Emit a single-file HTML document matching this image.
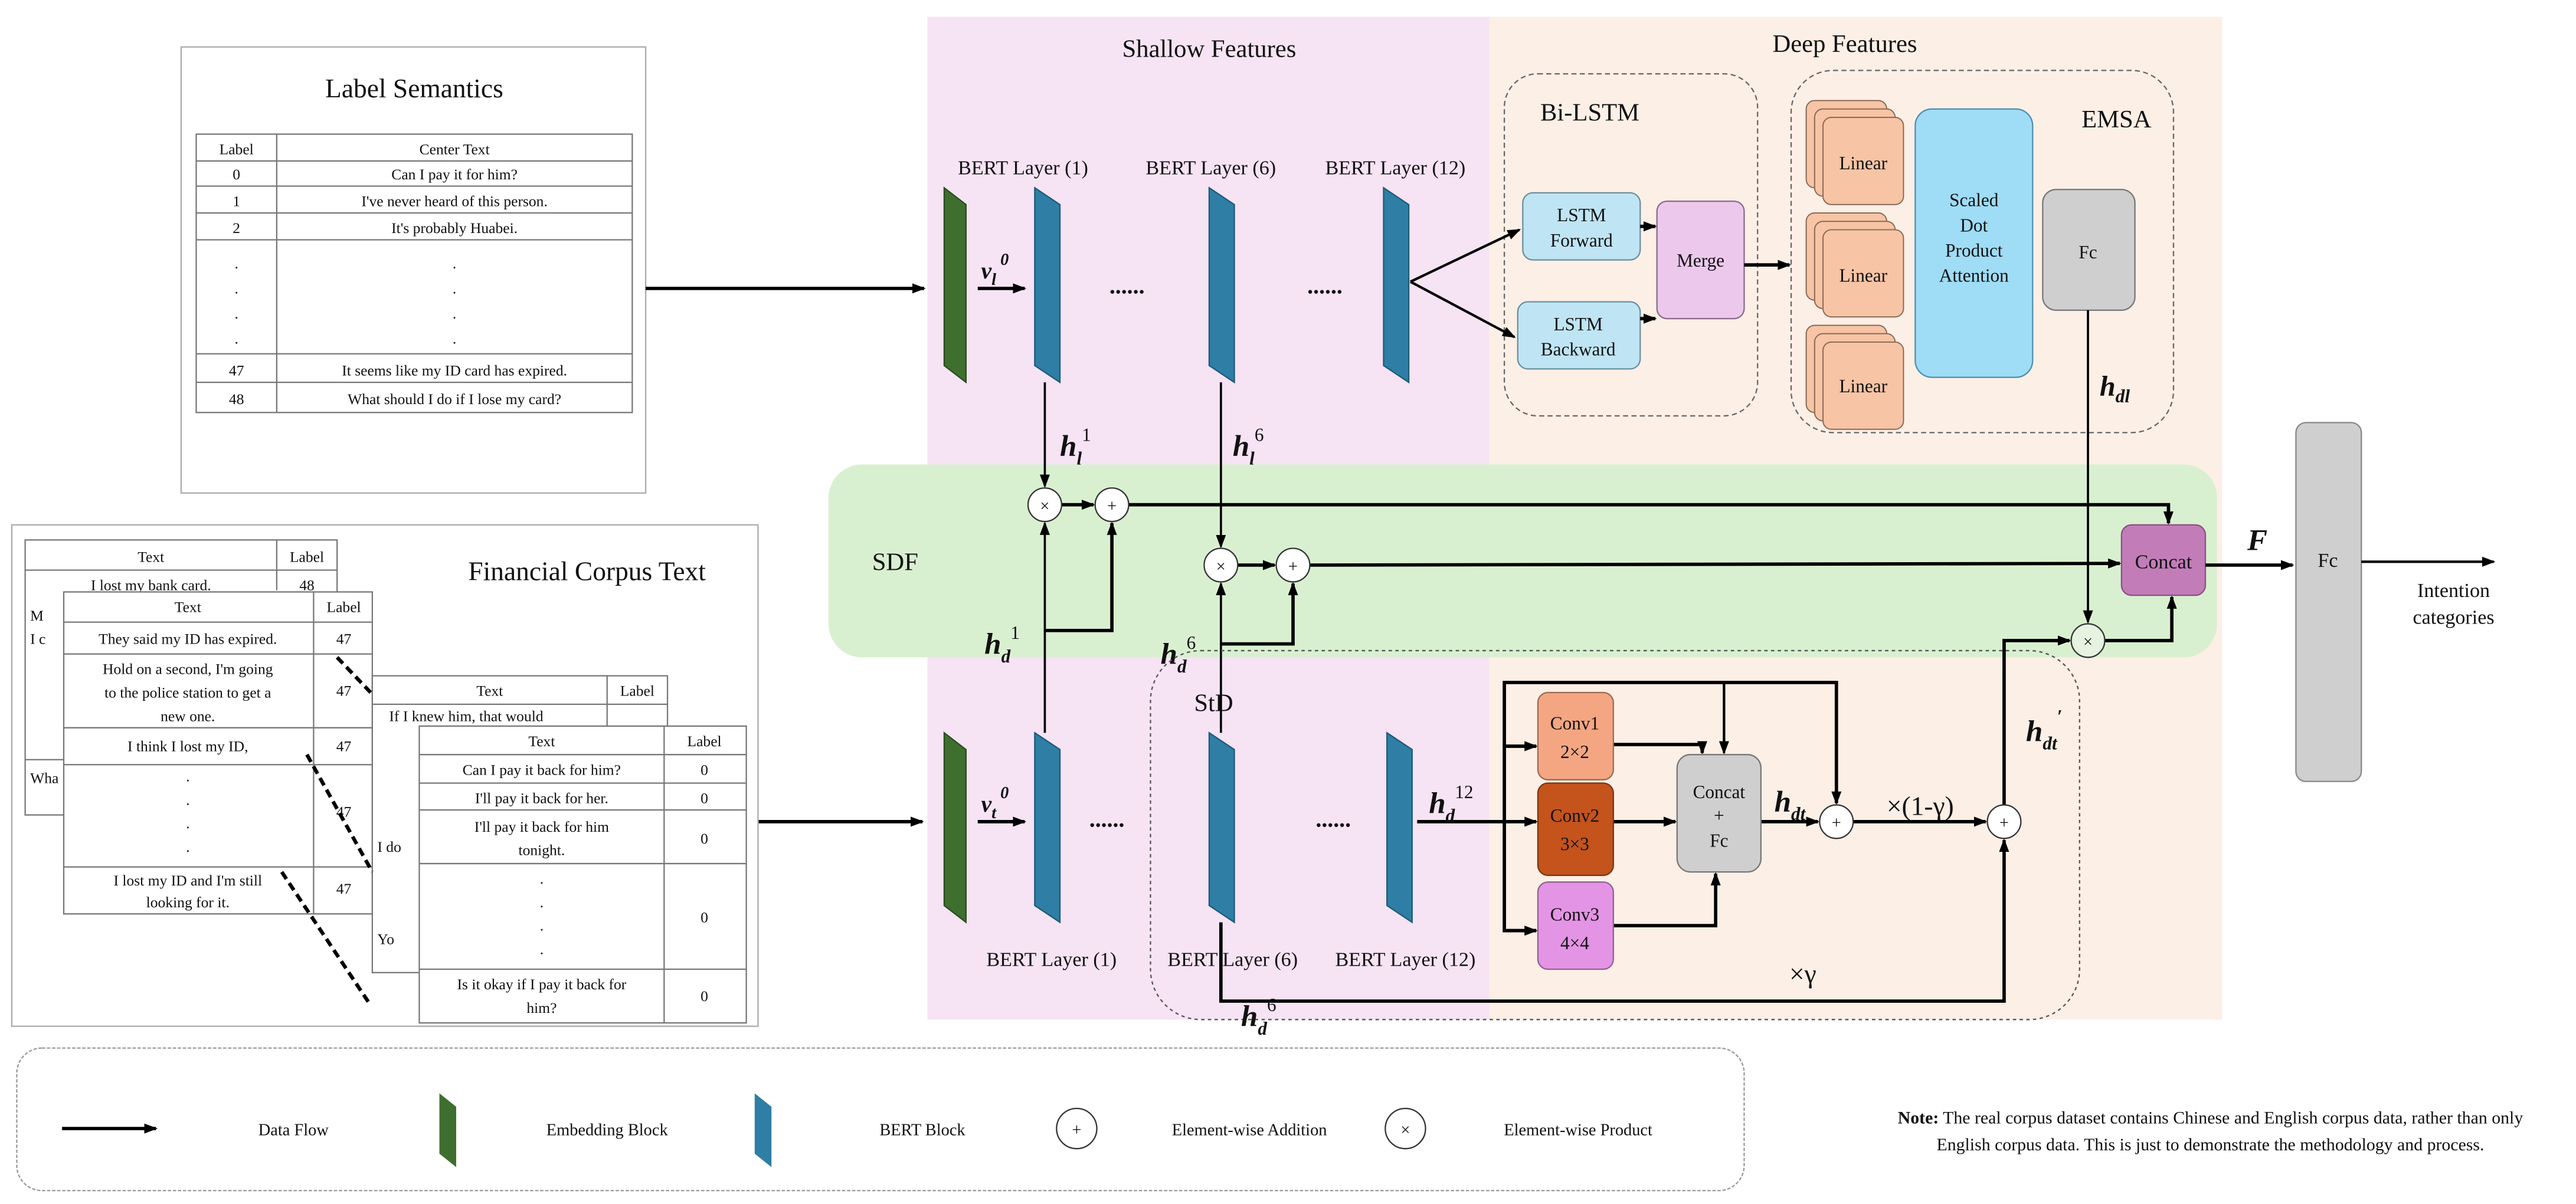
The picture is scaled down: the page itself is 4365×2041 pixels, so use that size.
<!DOCTYPE html>
<html><head><meta charset="utf-8"><style>
html,body{margin:0;padding:0;background:#fff;}
svg{display:block;}
text{font-family:"Liberation Serif",serif;fill:#111;}
.t9{font-size:9px;text-anchor:middle;}
.b{font-weight:bold;font-style:italic;}
</style></head><body>
<svg width="4365" height="2041" viewBox="0 0 1536 718" preserveAspectRatio="none" xmlns="http://www.w3.org/2000/svg">
<defs>
<marker id="a" markerWidth="8" markerHeight="8" refX="7" refY="4" orient="auto" markerUnits="userSpaceOnUse"><path d="M0,1 L8,4 L0,7 z" fill="#000"/></marker>
</defs>
<!-- backgrounds -->
<rect x="553" y="10" width="335" height="598" fill="#f6e3f4"/>
<rect x="888" y="10" width="437" height="598" fill="#fcefe6"/>
<rect x="494" y="277" width="828" height="115" rx="20" fill="#d9f0d0"/>
<text x="721" y="34" font-size="15" text-anchor="middle">Shallow Features</text>
<text x="1100" y="31" font-size="15" text-anchor="middle">Deep Features</text>
<text x="520" y="340" font-size="15">SDF</text>

<!-- Label semantics -->
<rect x="108" y="28" width="277" height="266" fill="#fff" stroke="#aaa" stroke-width="0.8"/>
<text x="247" y="58" font-size="16" text-anchor="middle">Label Semantics</text>
<g stroke="#777" stroke-width="0.8" fill="none">
<rect x="117" y="80" width="260" height="166"/>
<line x1="165" y1="80" x2="165" y2="246"/>
<line x1="117" y1="96" x2="377" y2="96"/><line x1="117" y1="111" x2="377" y2="111"/>
<line x1="117" y1="127" x2="377" y2="127"/><line x1="117" y1="143" x2="377" y2="143"/>
<line x1="117" y1="211" x2="377" y2="211"/><line x1="117" y1="228" x2="377" y2="228"/>
</g>
<g class="t9">
<text x="141" y="92">Label</text><text x="271" y="92">Center Text</text>
<text x="141" y="107">0</text><text x="271" y="107">Can I pay it for him?</text>
<text x="141" y="123">1</text><text x="271" y="123">I've never heard of this person.</text>
<text x="141" y="139">2</text><text x="271" y="139">It's probably Huabei.</text>
<text x="141" y="160">.</text><text x="141" y="175">.</text><text x="141" y="190">.</text><text x="141" y="205">.</text>
<text x="271" y="160">.</text><text x="271" y="175">.</text><text x="271" y="190">.</text><text x="271" y="205">.</text>
<text x="141" y="224">47</text><text x="271" y="224">It seems like my ID card has expired.</text>
<text x="141" y="241">48</text><text x="271" y="241">What should I do if I lose my card?</text>
</g>
<line x1="385" y1="172" x2="551" y2="172" stroke="#000" stroke-width="2" marker-end="url(#a)"/>

<!-- upper blocks -->
<polygon points="563,112 576,122 576,228 563,218" fill="#3e6f2e" stroke="#2a4d1f" stroke-width="0.8"/>
<polygon points="617,112 632,122 632,228 617,218" fill="#2e7ea6" stroke="#1d5a78" stroke-width="0.8"/>
<polygon points="721,112 736,122 736,228 721,218" fill="#2e7ea6" stroke="#1d5a78" stroke-width="0.8"/>
<polygon points="825,112 840,122 840,228 825,218" fill="#2e7ea6" stroke="#1d5a78" stroke-width="0.8"/>
<text x="610" y="104" font-size="12" text-anchor="middle">BERT Layer (1)</text>
<text x="722" y="104" font-size="12" text-anchor="middle">BERT Layer (6)</text>
<text x="832" y="104" font-size="12" text-anchor="middle">BERT Layer (12)</text>
<line x1="583" y1="172" x2="611" y2="172" stroke="#000" stroke-width="2" marker-end="url(#a)"/>
<text x="585" y="166" font-size="14" class="b">v<tspan font-size="10" dy="4">l</tspan><tspan font-size="10" dy="-12"> 0</tspan></text>
<text x="672" y="175" font-size="14" text-anchor="middle" font-weight="bold">......</text>
<text x="790" y="175" font-size="14" text-anchor="middle" font-weight="bold">......</text>

<!-- Bi-LSTM -->
<rect x="897" y="44" width="151" height="204" rx="20" fill="none" stroke="#666" stroke-width="0.8" stroke-dasharray="3,2"/>
<text x="948" y="72" font-size="15" text-anchor="middle">Bi-LSTM</text>
<line x1="841" y1="168" x2="906" y2="137" stroke="#000" stroke-width="1.5" marker-end="url(#a)"/>
<line x1="841" y1="168" x2="903" y2="201" stroke="#000" stroke-width="1.5" marker-end="url(#a)"/>
<rect x="908" y="115" width="70" height="40" rx="6" fill="#bfe4f4" stroke="#6a8ea0" stroke-width="0.8"/>
<text x="943" y="132" font-size="11" text-anchor="middle">LSTM</text><text x="943" y="147" font-size="11" text-anchor="middle">Forward</text>
<rect x="905" y="180" width="73" height="40" rx="6" fill="#bfe4f4" stroke="#6a8ea0" stroke-width="0.8"/>
<text x="941" y="197" font-size="11" text-anchor="middle">LSTM</text><text x="941" y="212" font-size="11" text-anchor="middle">Backward</text>
<rect x="988" y="120" width="52" height="70" rx="6" fill="#ecc8ec" stroke="#8a6a8a" stroke-width="0.8"/>
<text x="1014" y="159" font-size="11" text-anchor="middle">Merge</text>
<line x1="978" y1="135" x2="987" y2="135" stroke="#000" stroke-width="2" marker-end="url(#a)"/>
<line x1="978" y1="190" x2="987" y2="190" stroke="#000" stroke-width="2" marker-end="url(#a)"/>
<line x1="1040" y1="158" x2="1067" y2="158" stroke="#000" stroke-width="2" marker-end="url(#a)"/>

<!-- EMSA -->
<rect x="1068" y="42" width="228" height="216" rx="25" fill="none" stroke="#666" stroke-width="0.8" stroke-dasharray="3,2"/>
<text x="1262" y="76" font-size="15" text-anchor="middle">EMSA</text>
<g fill="#f7c4a5" stroke="#8a6a55" stroke-width="0.7">
<rect x="1077" y="60" width="48" height="52" rx="5"/><rect x="1082" y="65" width="48" height="52" rx="5"/><rect x="1087" y="70" width="48" height="52" rx="5"/>
<rect x="1077" y="127" width="48" height="52" rx="5"/><rect x="1082" y="132" width="48" height="52" rx="5"/><rect x="1087" y="137" width="48" height="52" rx="5"/>
<rect x="1077" y="194" width="48" height="52" rx="5"/><rect x="1082" y="199" width="48" height="52" rx="5"/><rect x="1087" y="204" width="48" height="52" rx="5"/>
</g>
<text x="1111" y="101" font-size="11" text-anchor="middle">Linear</text>
<text x="1111" y="168" font-size="11" text-anchor="middle">Linear</text>
<text x="1111" y="234" font-size="11" text-anchor="middle">Linear</text>
<rect x="1142" y="65" width="70" height="160" rx="10" fill="#9fdcf6" stroke="#4c8fb0" stroke-width="0.8"/>
<text x="1177" y="123" font-size="11" text-anchor="middle">Scaled</text>
<text x="1177" y="138" font-size="11" text-anchor="middle">Dot</text>
<text x="1177" y="153" font-size="11" text-anchor="middle">Product</text>
<text x="1177" y="168" font-size="11" text-anchor="middle">Attention</text>
<rect x="1218" y="113" width="55" height="72" rx="8" fill="#cfcfcf" stroke="#777" stroke-width="0.8"/>
<text x="1245" y="154" font-size="11" text-anchor="middle">Fc</text>
<line x1="1245" y1="185" x2="1245" y2="371" stroke="#000" stroke-width="1.3" marker-end="url(#a)"/>
<text x="1252" y="236" font-size="17" class="b">h<tspan font-size="11" dy="4">dl</tspan></text>

<!-- SDF ops -->
<g stroke="#000" fill="none">
<line x1="623" y1="228" x2="623" y2="290" stroke-width="1.3" marker-end="url(#a)"/>
<line x1="728" y1="228" x2="728" y2="326" stroke-width="1.3" marker-end="url(#a)"/>
<line x1="633" y1="301" x2="652" y2="301" stroke-width="2" marker-end="url(#a)"/>
<line x1="738" y1="337" x2="760" y2="337" stroke-width="2" marker-end="url(#a)"/>
<polyline points="673,301 1293,301 1293,312" stroke-width="2" marker-end="url(#a)"/>
<line x1="781" y1="337" x2="1264" y2="336" stroke-width="2" marker-end="url(#a)"/>
<line x1="623" y1="437" x2="623" y2="312" stroke-width="1.3" marker-end="url(#a)"/>
<polyline points="623,376 663,376 663,312" stroke-width="2" marker-end="url(#a)"/>
<line x1="728" y1="437" x2="728" y2="348" stroke-width="1.3" marker-end="url(#a)"/>
<polyline points="728,384 771,384 771,348" stroke-width="2" marker-end="url(#a)"/>
<polyline points="1255,382 1295,382 1295,356" stroke-width="2" marker-end="url(#a)"/>
<polyline points="1195,480 1195,382 1234,382" stroke-width="2" marker-end="url(#a)"/>
</g>
<g fill="#fff" stroke="#333" stroke-width="0.8">
<circle cx="623" cy="301" r="10"/><circle cx="663" cy="301" r="10"/>
<circle cx="728" cy="337" r="10"/><circle cx="771" cy="337" r="10"/>
<circle cx="1245" cy="382" r="10" fill="#e5f3e0"/>
</g>
<g font-size="10" text-anchor="middle">
<text x="623" y="305">×</text><text x="663" y="305">+</text><text x="728" y="341">×</text><text x="771" y="341">+</text><text x="1245" y="386">×</text>
</g>
<text x="632" y="272" font-size="18" class="b">h<tspan font-size="11" dy="5">l</tspan><tspan font-size="11" dy="-14" font-weight="normal" font-style="normal">1</tspan></text>
<text x="735" y="272" font-size="18" class="b">h<tspan font-size="11" dy="5">l</tspan><tspan font-size="11" dy="-14" font-weight="normal" font-style="normal">6</tspan></text>
<text x="587" y="390" font-size="18" class="b">h<tspan font-size="11" dy="5">d</tspan><tspan font-size="11" dy="-14" font-weight="normal" font-style="normal">1</tspan></text>
<text x="692" y="396" font-size="18" class="b">h<tspan font-size="11" dy="5">d</tspan><tspan font-size="11" dy="-14" font-weight="normal" font-style="normal">6</tspan></text>

<!-- Concat & Fc -->
<rect x="1265" y="313" width="50" height="42" rx="6" fill="#c27db9" stroke="#8a4f84" stroke-width="0.8"/>
<text x="1290" y="339" font-size="12" text-anchor="middle">Concat</text>
<line x1="1315" y1="337" x2="1367" y2="337" stroke="#000" stroke-width="2" marker-end="url(#a)"/>
<text x="1340" y="328" font-size="18" class="b">F</text>
<rect x="1369" y="252" width="39" height="214" rx="6" fill="#cfcfcf" stroke="#888" stroke-width="0.8"/>
<text x="1388" y="338" font-size="12" text-anchor="middle">Fc</text>
<line x1="1408" y1="335" x2="1487" y2="335" stroke="#000" stroke-width="1.5" marker-end="url(#a)"/>
<text x="1463" y="356" font-size="12" text-anchor="middle">Intention</text>
<text x="1463" y="372" font-size="12" text-anchor="middle">categories</text>

<!-- StD -->
<rect x="686" y="388" width="554" height="220" rx="30" fill="none" stroke="#555" stroke-width="0.8" stroke-dasharray="2,2"/>
<text x="712" y="424" font-size="15">StD</text>
<polygon points="563,437 576,447 576,550 563,540" fill="#3e6f2e" stroke="#2a4d1f" stroke-width="0.8"/>
<polygon points="617,437 632,447 632,550 617,540" fill="#2e7ea6" stroke="#1d5a78" stroke-width="0.8"/>
<polygon points="721,437 736,447 736,550 721,540" fill="#2e7ea6" stroke="#1d5a78" stroke-width="0.8"/>
<polygon points="827,437 842,447 842,550 827,540" fill="#2e7ea6" stroke="#1d5a78" stroke-width="0.8"/>
<line x1="452" y1="490" x2="550" y2="490" stroke="#000" stroke-width="2" marker-end="url(#a)"/>
<line x1="583" y1="490" x2="611" y2="490" stroke="#000" stroke-width="2" marker-end="url(#a)"/>
<text x="585" y="484" font-size="14" class="b">v<tspan font-size="10" dy="4">t</tspan><tspan font-size="10" dy="-12"> 0</tspan></text>
<text x="660" y="493" font-size="14" text-anchor="middle" font-weight="bold">......</text>
<text x="795" y="493" font-size="14" text-anchor="middle" font-weight="bold">......</text>
<text x="627" y="576" font-size="12" text-anchor="middle">BERT Layer (1)</text>
<text x="735" y="576" font-size="12" text-anchor="middle">BERT Layer (6)</text>
<text x="838" y="576" font-size="12" text-anchor="middle">BERT Layer (12)</text>

<g stroke="#000" fill="none">
<line x1="845" y1="490" x2="916" y2="490" stroke-width="2" marker-end="url(#a)"/>
<polyline points="916,445 897,445 897,555 916,555" stroke-width="2"/>
<line x1="897" y1="445" x2="916" y2="445" stroke-width="2" marker-end="url(#a)"/>
<line x1="897" y1="555" x2="916" y2="555" stroke-width="2" marker-end="url(#a)"/>
<polyline points="897,445 897,407 1095,407 1095,479" stroke-width="2" marker-end="url(#a)"/>
<line x1="1028" y1="407" x2="1028" y2="449" stroke-width="1.5" marker-end="url(#a)"/>
<polyline points="962,444 1015,444 1015,449" stroke-width="2" marker-end="url(#a)"/>
<line x1="962" y1="490" x2="999" y2="490" stroke-width="2" marker-end="url(#a)"/>
<polyline points="962,552 1023,552 1023,521" stroke-width="2" marker-end="url(#a)"/>
<line x1="1050" y1="490" x2="1084" y2="490" stroke-width="2" marker-end="url(#a)"/>
<line x1="1105" y1="490" x2="1184" y2="490" stroke-width="2" marker-end="url(#a)"/>
<polyline points="728,550 728,597 1195,597 1195,501" stroke-width="2" marker-end="url(#a)"/>
</g>
<rect x="917" y="413" width="45" height="52" rx="6" fill="#f4a683" stroke="#9a6a50" stroke-width="0.8"/>
<text x="939" y="435" font-size="11" text-anchor="middle">Conv1</text><text x="939" y="452" font-size="11" text-anchor="middle">2×2</text>
<rect x="917" y="467" width="45" height="55" rx="6" fill="#c4531c" stroke="#7a3510" stroke-width="0.8"/>
<text x="939" y="490" font-size="11" text-anchor="middle">Conv2</text><text x="939" y="507" font-size="11" text-anchor="middle">3×3</text>
<rect x="917" y="526" width="45" height="52" rx="6" fill="#e494e4" stroke="#906090" stroke-width="0.8"/>
<text x="939" y="549" font-size="11" text-anchor="middle">Conv3</text><text x="939" y="566" font-size="11" text-anchor="middle">4×4</text>
<rect x="1000" y="450" width="50" height="70" rx="8" fill="#cfcfcf" stroke="#777" stroke-width="0.8"/>
<text x="1025" y="476" font-size="11" text-anchor="middle">Concat</text>
<text x="1025" y="490" font-size="11" text-anchor="middle">+</text>
<text x="1025" y="505" font-size="11" text-anchor="middle">Fc</text>
<circle cx="1095" cy="490" r="10" fill="#fff" stroke="#333" stroke-width="0.8"/>
<circle cx="1195" cy="490" r="10" fill="#fff" stroke="#333" stroke-width="0.8"/>
<text x="1095" y="494" font-size="10" text-anchor="middle">+</text>
<text x="1195" y="494" font-size="10" text-anchor="middle">+</text>
<text x="852" y="485" font-size="18" class="b">h<tspan font-size="11" dy="5">d</tspan><tspan font-size="11" dy="-14" font-weight="normal" font-style="normal">12</tspan></text>
<text x="1058" y="484" font-size="18" class="b">h<tspan font-size="11" dy="5">dt</tspan></text>
<text x="1145" y="486" font-size="16" text-anchor="middle">×(1-γ)</text>
<text x="1208" y="442" font-size="18" class="b">h<tspan font-size="11" dy="5">dt</tspan><tspan font-size="11" dy="-16">′</tspan></text>
<text x="1075" y="586" font-size="16" text-anchor="middle">×γ</text>
<text x="740" y="612" font-size="18" class="b">h<tspan font-size="11" dy="5">d</tspan><tspan font-size="11" dy="-14" font-weight="normal" font-style="normal">6</tspan></text>

<!-- Financial corpus -->
<rect x="7" y="313" width="445" height="299" fill="#fff" stroke="#aaa" stroke-width="0.8"/>
<text x="350" y="346" font-size="16" text-anchor="middle">Financial Corpus Text</text>
<g stroke="#777" stroke-width="0.8" fill="#fff">
<rect x="15" y="322" width="186" height="164"/>
</g>
<g stroke="#777" stroke-width="0.8"><line x1="165" y1="322" x2="165" y2="352"/><line x1="15" y1="340" x2="201" y2="340"/><line x1="15" y1="453" x2="38" y2="453"/></g>
<g class="t9"><text x="90" y="335">Text</text><text x="183" y="335">Label</text><text x="90" y="352">I lost my bank card.</text><text x="183" y="352">48</text></g>
<text x="18" y="370" font-size="9">M</text><text x="18" y="384" font-size="9">I c</text><text x="18" y="467" font-size="9">Wha</text>
<rect x="38" y="353" width="184" height="192" fill="#fff" stroke="#777" stroke-width="0.8"/>
<g stroke="#777" stroke-width="0.8"><line x1="187" y1="353" x2="187" y2="545"/>
<line x1="38" y1="371" x2="222" y2="371"/><line x1="38" y1="390" x2="222" y2="390"/><line x1="38" y1="434" x2="222" y2="434"/><line x1="38" y1="456" x2="222" y2="456"/><line x1="38" y1="517" x2="222" y2="517"/></g>
<g class="t9">
<text x="112" y="365">Text</text><text x="205" y="365">Label</text>
<text x="112" y="384">They said my ID has expired.</text><text x="205" y="384">47</text>
<text x="112" y="402">Hold on a second, I'm going</text><text x="112" y="416">to the police station to get a</text><text x="112" y="430">new one.</text><text x="205" y="415">47</text>
<text x="112" y="448">I think I lost my ID,</text><text x="205" y="448">47</text>
<text x="112" y="466">.</text><text x="112" y="480">.</text><text x="112" y="494">.</text><text x="112" y="508">.</text><text x="205" y="487">47</text>
<text x="112" y="528">I lost my ID and I'm still</text><text x="112" y="541">looking for it.</text><text x="205" y="533">47</text>
</g>
<rect x="222" y="403" width="176" height="177" fill="#fff" stroke="#777" stroke-width="0.8"/>
<g stroke="#777" stroke-width="0.8"><line x1="362" y1="403" x2="362" y2="433"/><line x1="222" y1="420" x2="398" y2="420"/></g>
<g class="t9"><text x="292" y="415">Text</text><text x="380" y="415">Label</text><text x="278" y="430">If I knew him, that would</text></g>
<text x="225" y="508" font-size="9">I do</text><text x="225" y="563" font-size="9">Yo</text>
<rect x="250" y="433" width="195" height="177" fill="#fff" stroke="#777" stroke-width="0.8"/>
<g stroke="#777" stroke-width="0.8"><line x1="396" y1="433" x2="396" y2="610"/>
<line x1="250" y1="450" x2="445" y2="450"/><line x1="250" y1="467" x2="445" y2="467"/><line x1="250" y1="483" x2="445" y2="483"/><line x1="250" y1="515" x2="445" y2="515"/><line x1="250" y1="578" x2="445" y2="578"/></g>
<g class="t9">
<text x="323" y="445">Text</text><text x="420" y="445">Label</text>
<text x="323" y="462">Can I pay it back for him?</text><text x="420" y="462">0</text>
<text x="323" y="479">I'll pay it back for her.</text><text x="420" y="479">0</text>
<text x="323" y="496">I'll pay it back for him</text><text x="323" y="510">tonight.</text><text x="420" y="503">0</text>
<text x="323" y="527">.</text><text x="323" y="541">.</text><text x="323" y="555">.</text><text x="323" y="569">.</text><text x="420" y="550">0</text>
<text x="323" y="590">Is it okay if I pay it back for</text><text x="323" y="604">him?</text><text x="420" y="597">0</text>
</g>
<g stroke="#000" stroke-width="2.2" stroke-dasharray="5,3">
<line x1="201" y1="392" x2="222" y2="414"/>
<line x1="183" y1="450" x2="222" y2="520"/>
<line x1="168" y1="520" x2="220" y2="598"/>
</g>

<!-- Legend -->
<rect x="10" y="625" width="1030" height="85" rx="15" fill="none" stroke="#999" stroke-width="0.8" stroke-dasharray="2,1"/>
<line x1="37" y1="673" x2="93" y2="673" stroke="#000" stroke-width="2" marker-end="url(#a)"/>
<text x="175" y="677" font-size="10" text-anchor="middle">Data Flow</text>
<polygon points="262,652 272,660 272,696 262,688" fill="#3e6f2e"/>
<text x="362" y="677" font-size="10" text-anchor="middle">Embedding Block</text>
<polygon points="450,652 460,660 460,696 450,688" fill="#2e7ea6"/>
<text x="550" y="677" font-size="10" text-anchor="middle">BERT Block</text>
<circle cx="642" cy="673" r="12" fill="#fff" stroke="#333" stroke-width="0.8"/><text x="642" y="677" font-size="10" text-anchor="middle">+</text>
<text x="745" y="677" font-size="10" text-anchor="middle">Element-wise Addition</text>
<circle cx="838" cy="673" r="12" fill="#fff" stroke="#333" stroke-width="0.8"/><text x="838" y="677" font-size="10" text-anchor="middle">×</text>
<text x="941" y="677" font-size="10" text-anchor="middle">Element-wise Product</text>
<text x="1318" y="670" font-size="10.5" text-anchor="middle"><tspan font-weight="bold">Note:</tspan> The real corpus dataset contains Chinese and English corpus data, rather than only</text>
<text x="1318" y="686" font-size="10.5" text-anchor="middle">English corpus data. This is just to demonstrate the methodology and process.</text>
</svg>
</body></html>
